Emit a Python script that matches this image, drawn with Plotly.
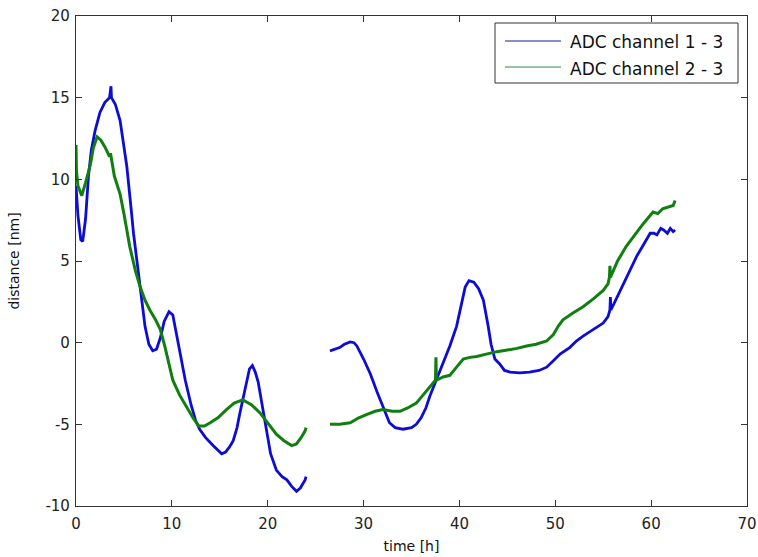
import plotly.graph_objects as go

# ---- data ----
blue1_t = [0.0, 0.2, 0.5, 0.7, 1.0, 1.3, 1.6, 2.0, 2.5, 3.0, 3.5, 3.65, 3.7, 4.1, 4.6, 5.0, 5.3, 5.7, 6.0, 6.4,
           6.7, 7.2, 7.6, 8.0, 8.4, 8.8, 9.2, 9.7, 10.1, 10.5, 11.0, 11.4, 12.0, 12.5, 12.9, 13.5, 14.3, 15.2,
           15.6, 16.0, 16.4, 16.8, 17.1, 17.5, 17.8, 18.1, 18.4, 18.7, 19.0, 19.4, 19.9, 20.3, 20.9, 21.5,
           22.0, 22.5, 23.0, 23.4, 23.9, 24.0]
blue1_y = [9.6, 7.8, 6.3, 6.2, 7.6, 10.2, 11.8, 13.0, 14.1, 14.7, 15.0, 15.7, 15.0, 14.6, 13.6, 12.0, 10.8, 8.5,
           6.7, 4.8, 3.4, 1.0, -0.1, -0.5, -0.4, 0.3, 1.3, 1.9, 1.7, 0.5, -1.2, -2.3, -3.8, -4.8, -5.3, -5.8,
           -6.3, -6.8, -6.7, -6.4, -6.0, -5.2, -4.3, -3.3, -2.5, -1.6, -1.4, -1.8, -2.4, -3.8, -5.4, -6.8,
           -7.8, -8.2, -8.4, -8.8, -9.1, -8.9, -8.4, -8.2]
blue2_t = [26.5, 27.0, 27.5, 28.0, 28.6, 29.0, 29.3, 30.0, 30.7, 31.4, 32.0, 32.7, 33.3, 34.1, 35.0, 35.5, 36.0,
           36.5, 36.9, 37.6, 38.3, 39.0, 39.7, 40.2, 40.6, 41.0, 41.5, 42.0, 42.5, 43.0, 43.3, 43.7, 44.2,
           44.7, 45.3, 46.3, 47.3, 48.3, 49.1, 49.8, 50.5, 51.5, 52.2, 52.9, 54.0, 55.0, 55.5, 55.7, 55.75,
           55.8, 56.3, 57.1, 57.8, 58.5, 59.2, 59.9, 60.3, 60.6, 61.0, 61.3, 61.7, 62.0, 62.3, 62.5]
blue2_y = [-0.5, -0.4, -0.3, -0.1, 0.05, 0.0, -0.2, -1.0, -1.9, -3.0, -3.9, -4.9, -5.2, -5.3, -5.2, -5.0, -4.6,
           -4.0, -3.3, -2.3, -1.3, -0.2, 1.0, 2.4, 3.4, 3.8, 3.7, 3.3, 2.6, 1.0, -0.1, -1.0, -1.3, -1.7, -1.8,
           -1.85, -1.8, -1.7, -1.5, -1.1, -0.7, -0.3, 0.1, 0.4, 0.8, 1.2, 1.6, 2.0, 2.8, 2.0, 2.6, 3.6, 4.5,
           5.3, 6.0, 6.7, 6.7, 6.6, 7.0, 6.9, 6.7, 7.0, 6.8, 6.9]
green1_t = [0.0, 0.05, 0.2, 0.6, 1.0, 1.5, 1.8, 2.2, 2.6, 3.0, 3.5, 3.6, 4.0, 4.6, 5.0, 5.6, 6.2, 6.7, 7.2, 7.7,
            8.3, 8.8, 9.3, 9.7, 10.1, 10.8, 11.5, 12.2, 12.8, 13.4, 14.0, 14.8, 15.7, 16.5, 17.4, 18.3, 19.2,
            20.0, 20.9, 21.7, 22.5, 23.0, 23.5, 23.9, 24.0]
green1_y = [12.1, 10.5, 9.6, 9.0, 9.8, 10.9, 11.9, 12.6, 12.4, 12.0, 11.4, 11.6, 10.2, 9.1, 7.9, 5.9, 4.4, 3.4,
            2.6, 2.0, 1.4, 0.8, -0.3, -1.3, -2.3, -3.2, -3.9, -4.6, -5.1, -5.1, -4.9, -4.6, -4.1, -3.7, -3.5,
            -3.8, -4.3, -4.9, -5.6, -6.0, -6.3, -6.2, -5.8, -5.4, -5.2]
green2_t = [26.5, 27.5, 28.6, 29.5, 30.3, 31.2, 32.0, 33.0, 33.8, 34.6, 35.5, 36.2, 36.9, 37.5, 37.55, 37.6,
            38.3, 39.0, 39.7, 40.4, 41.1, 41.8, 42.8, 43.9, 45.0, 46.0, 47.0, 48.0, 49.1, 49.8, 50.3, 50.8,
            51.8, 52.9, 54.0, 55.0, 55.5, 55.65, 55.7, 55.75, 56.5, 57.4, 58.3, 59.2, 60.2, 60.7, 61.2, 61.8,
            62.3, 62.5]
green2_y = [-5.0, -5.0, -4.9, -4.6, -4.4, -4.2, -4.1, -4.2, -4.2, -4.0, -3.7, -3.2, -2.7, -2.3, -0.9, -2.3,
            -2.1, -2.0, -1.5, -1.0, -0.9, -0.85, -0.7, -0.55, -0.45, -0.35, -0.2, -0.1, 0.1, 0.5, 1.0, 1.4,
            1.8, 2.2, 2.7, 3.2, 3.6, 4.0, 4.7, 4.0, 5.0, 5.9, 6.6, 7.3, 8.0, 7.9, 8.2, 8.3, 8.4, 8.7]

series_names = ["ADC channel 1 - 3", "ADC channel 2 - 3"]
x_ticks = [0, 10, 20, 30, 40, 50, 60, 70]
y_ticks = [-10, -5, 0, 5, 10, 15, 20]

BLUE = "#0c0cd6"
GREEN = "#107f10"
AX = "#333333"
FONT = "DejaVu Sans"

fig = go.Figure()
fig.add_trace(go.Scatter(x=blue1_t + [None] + blue2_t, y=blue1_y + [None] + blue2_y, mode="lines",
                         line=dict(color=BLUE, width=2.8), name=series_names[0], showlegend=False,
                         connectgaps=False))
fig.add_trace(go.Scatter(x=green1_t + [None] + green2_t, y=green1_y + [None] + green2_y, mode="lines",
                         line=dict(color=GREEN, width=3), name=series_names[1], showlegend=False,
                         connectgaps=False))

W, H = 758, 557
L, R, T, B = 76, 11, 16, 51
pw, ph = W - L - R, H - T - B


def px(xp):
    return (xp - L) / pw


def py(yp):
    return (H - B - yp) / ph


shapes = [
    dict(type="rect", xref="paper", yref="paper", x0=px(495), x1=px(738), y0=py(83), y1=py(23),
         line=dict(color=AX, width=1), fillcolor="white", layer="above"),
    dict(type="line", xref="paper", yref="paper", x0=px(505), x1=px(561), y0=py(41), y1=py(41),
         line=dict(color="#1a1a99", width=1.2), layer="above"),
    dict(type="line", xref="paper", yref="paper", x0=px(505), x1=px(561), y0=py(67), y1=py(67),
         line=dict(color="#2e8a4a", width=1.2), layer="above"),
]
annotations = [
    dict(xref="paper", yref="paper", x=px(568), y=py(42), text=series_names[0], showarrow=False,
         xanchor="left", yanchor="middle", font=dict(family=FONT, size=17, color="#111")),
    dict(xref="paper", yref="paper", x=px(568), y=py(69), text=series_names[1], showarrow=False,
         xanchor="left", yanchor="middle", font=dict(family=FONT, size=17, color="#111")),
]

axis_common = dict(showline=True, linecolor=AX, linewidth=1.2, mirror="ticks", ticks="inside",
                   ticklen=6, tickwidth=1, tickcolor=AX, showgrid=False, zeroline=False,
                   tickfont=dict(family=FONT, size=15, color="#222"))

fig.update_layout(
    width=W, height=H,
    margin=dict(l=L, r=R, t=T, b=B, autoexpand=False),
    paper_bgcolor="white", plot_bgcolor="white",
    xaxis=dict(range=[0, 70], tickvals=x_ticks, ticktext=[str(v) for v in x_ticks], ticklabelstandoff=4,
               title=dict(text="time [h]", font=dict(family=FONT, size=14, color="#111"), standoff=9),
               **axis_common),
    yaxis=dict(range=[-10, 20], tickvals=y_ticks, ticktext=[str(v) for v in y_ticks], ticklabelstandoff=2,
               title=dict(text="distance [nm]", font=dict(family=FONT, size=14, color="#111"), standoff=22),
               **axis_common),
    shapes=shapes, annotations=annotations, showlegend=False,
)

fig.write_html("out.html")
